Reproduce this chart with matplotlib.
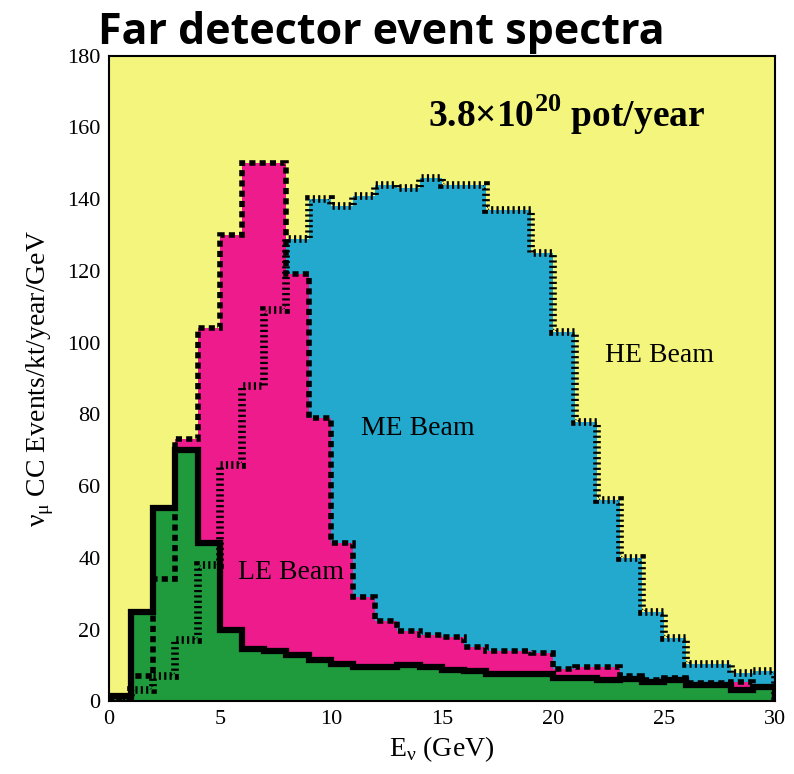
import numpy as np
import matplotlib
matplotlib.use('Agg')
import matplotlib.pyplot as plt

# 1 GeV bins from 0 to 30 GeV
edges = np.arange(0, 31, 1)

# numu CC events/kt/year/GeV
he_beam = [0.5, 3, 7, 17, 38, 66, 88, 109, 129, 140, 138, 141, 144, 143, 146,
           144, 144, 137, 137, 125, 103, 78, 56, 40, 25, 17.5, 10.5, 10.5, 8, 8.5]
me_beam = [1, 7, 34, 73, 104, 130, 150, 150, 119, 79, 44, 29, 22.5, 19.5, 18.5,
           18, 15, 14, 14, 13.5, 9, 9.5, 9.5, 7, 6, 6.5, 5, 5, 5.5, 4]
le_beam = [1.5, 25, 54, 70, 44, 20, 14.5, 14, 13, 11.5, 10.5, 9.5, 9.5, 10, 9.5,
           8.7, 8.4, 7.5, 7.5, 7.5, 6.5, 6.5, 6, 6.3, 5.4, 5.8, 4.5, 4.5, 3, 4]

labels = ['HE Beam', 'ME Beam', 'LE Beam']
colors = ['#23a9cd', '#ed1b8b', '#1f9a3c']
bg_color = '#f3f57c'

plt.rcParams['font.family'] = 'Liberation Serif'
plt.rcParams['mathtext.fontset'] = 'custom'
plt.rcParams['mathtext.rm'] = 'Liberation Serif'
plt.rcParams['mathtext.bf'] = 'Liberation Serif:bold'

fig = plt.figure(figsize=(7.94, 7.74), dpi=100)
ax = fig.add_axes([0.137, 0.094, 0.839, 0.834])
ax.set_facecolor(bg_color)

# fills first, back to front
for vals, col in zip([he_beam, me_beam, le_beam], colors):
    ax.stairs(vals, edges, baseline=0, fill=True, color=col, zorder=2)

# outlines on top
ax.stairs(he_beam, edges, baseline=0, fill=False, color='black', lw=5.5,
          linestyle=(0, (0.28, 0.42)), zorder=3)
ax.stairs(me_beam, edges, baseline=0, fill=False, color='black', lw=4,
          linestyle=(0, (1.1, 0.75)), zorder=4)
ax.stairs(le_beam, edges, baseline=0, fill=False, color='black', lw=4.5,
          linestyle='-', zorder=5)

ax.set_xlim(0, 30)
ax.set_ylim(0, 180)
ax.set_xticks(range(0, 31, 5))
ax.set_yticks(range(0, 181, 20))
ax.tick_params(length=0, labelsize=16, pad=6)
for s in ax.spines.values():
    s.set_linewidth(1.5)

ax.set_xlabel(r'E$_{\mathrm{ν}}$ (GeV)', fontsize=20, labelpad=4)
ax.set_ylabel(r'ν$_{\mathrm{μ}}$ CC Events/kt/year/GeV', fontsize=20, labelpad=8)

ax.text(24.8, 96.5, labels[0], fontsize=20, ha='center', va='center', zorder=6)
ax.text(13.9, 76, labels[1], fontsize=20, ha='center', va='center', zorder=6)
ax.text(8.2, 36, labels[2], fontsize=20, ha='center', va='center', zorder=6)

ax.text(20.6, 163.5, r'3.8×10$^{\mathbf{20}}$ pot/year', fontsize=27,
        fontweight='bold', ha='center', va='center', zorder=6)

fig.text(0.48, 0.958, 'Far detector event spectra', fontsize=31,
         fontweight='bold', family='Open Sans', ha='center', va='center')

fig.savefig('out.png', dpi=100, facecolor='white')
